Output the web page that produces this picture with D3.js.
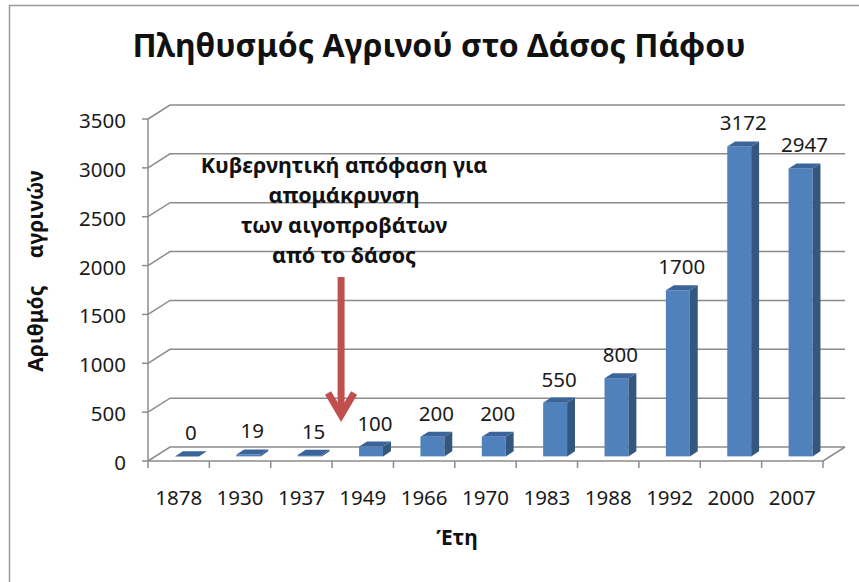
<!DOCTYPE html>
<html>
<head>
<meta charset="utf-8">
<script src="https://cdn.jsdelivr.net/npm/d3@7"></script>
<style>
  body { margin: 0; background: #fff; }
  svg { display: block; font-family: "Noto Sans", "Open Sans", sans-serif; }
</style>
</head>
<body>
<svg id="chart" width="859" height="582"></svg>
<script>
const years = ["1878", "1930", "1937", "1949", "1966", "1970", "1983", "1988", "1992", "2000", "2007"];
const counts = [0, 19, 15, 100, 200, 200, 550, 800, 1700, 3172, 2947];
const yTicks = [0, 500, 1000, 1500, 2000, 2500, 3000, 3500];
const noteLines = ["Κυβερνητική απόφαση για", "απομάκρυνση", "των αιγοπροβάτων", "από το δάσος"];

const svg = d3.select("#chart");

// outer frame
svg.append("rect")
  .attr("x", 9.5).attr("y", 5.5)
  .attr("width", 900).attr("height", 700)
  .attr("fill", "none")
  .attr("stroke", "#9a9a9a")
  .attr("stroke-width", 1.5);

const x0 = 148, x1 = 823;
const depth = { dx: 22, dy: -14 };

const x = d3.scaleBand().domain(years).range([x0, x1]).padding(0);
const y = d3.scaleLinear().domain([0, 3500]).range([461, 119]);

const gridColor = "#8c8c8c";
const labelSize = 20.5;

// back wall gridlines + side wall diagonals
const grid = svg.append("g").attr("stroke", gridColor).attr("stroke-width", 1.5).attr("fill", "none");
yTicks.forEach(v => {
  grid.append("path")
    .attr("d", `M${x0},${y(v)} L${x0 + depth.dx},${y(v) + depth.dy} L${x1 + depth.dx},${y(v) + depth.dy}`);
});

// floor front and right edges
grid.append("path")
  .attr("d", `M${x0},${y(0)} L${x1},${y(0)} L${x1 + depth.dx},${y(0) + depth.dy}`);

// value axis line and ticks
grid.append("line").attr("x1", x0).attr("x2", x0).attr("y1", y(3500)).attr("y2", y(0));
yTicks.forEach(v => {
  grid.append("line").attr("x1", x0 - 6).attr("x2", x0).attr("y1", y(v)).attr("y2", y(v));
});
// category ticks
years.concat(["end"]).forEach(yr => {
  const xx = yr === "end" ? x1 : x(yr);
  grid.append("line").attr("x1", xx).attr("x2", xx).attr("y1", y(0)).attr("y2", y(0) + 7);
});

// y tick labels
svg.append("g").selectAll("text")
  .data(yTicks).join("text")
  .attr("x", 126).attr("y", d => y(d) + 1)
  .attr("text-anchor", "end")
  .attr("dominant-baseline", "central")
  .attr("font-size", labelSize)
  .attr("fill", "#1a1a1a")
  .text(d => d);

// category labels
svg.append("g").selectAll("text")
  .data(years).join("text")
  .attr("x", d => x(d) + x.bandwidth() / 2)
  .attr("y", 497)
  .attr("text-anchor", "middle")
  .attr("dominant-baseline", "central")
  .attr("font-size", labelSize)
  .attr("fill", "#1a1a1a")
  .text(d => d);

// 3D bars
const barW = x.bandwidth() * 0.39;
const f0 = 0.33, f1 = 0.69; // depth fractions of the bar
const bars = svg.append("g");
years.forEach((yr, i) => {
  const v = counts[i];
  const cx = x(yr) + x.bandwidth() / 2 + depth.dx * f0;
  const left = cx - barW / 2 + 1, right = cx + barW / 2 + 1;
  const oy = depth.dy * f0;
  const bx = depth.dx * (f1 - f0), by = depth.dy * (f1 - f0);
  const base = y(0) + oy;
  const top = y(v) + oy;
  // front face
  bars.append("rect")
    .attr("x", left).attr("y", top)
    .attr("width", right - left).attr("height", Math.max(0, base - top))
    .attr("fill", "#4f81bd");
  // side face
  bars.append("path")
    .attr("d", `M${right},${base} L${right + bx},${base + by} L${right + bx},${top + by} L${right},${top} Z`)
    .attr("fill", "#34577f");
  // top face
  bars.append("path")
    .attr("d", `M${left},${top} L${right},${top} L${right + bx},${top + by} L${left + bx},${top + by} Z`)
    .attr("fill", "#3b659a");
  // value label
  svg.append("text")
    .attr("x", (left + right + bx) / 2)
    .attr("y", top + by - 11)
    .attr("text-anchor", "middle")
    .attr("font-size", labelSize)
    .attr("fill", "#1a1a1a")
    .text(v);
});

// title
svg.append("text")
  .attr("x", 439).attr("y", 57)
  .attr("text-anchor", "middle")
  .attr("font-size", 32)
  .attr("font-weight", "bold")
  .attr("fill", "#111")
  .text("Πληθυσμός Αγρινού στο Δάσος Πάφου");

// axis titles
svg.append("text")
  .attr("transform", "translate(43,271) rotate(-90)")
  .attr("text-anchor", "middle")
  .attr("font-size", 21)
  .attr("font-weight", "bold")
  .attr("fill", "#111")
  .style("white-space", "pre")
  .text("Αριθμός     αγρινών");

svg.append("text")
  .attr("x", 457).attr("y", 537)
  .attr("text-anchor", "middle")
  .attr("dominant-baseline", "central")
  .attr("font-size", 21)
  .attr("font-weight", "bold")
  .attr("fill", "#111")
  .text("Έτη");

// annotation
const noteX = x("1949") + 12;
svg.append("g").selectAll("text")
  .data(noteLines).join("text")
  .attr("x", noteX)
  .attr("y", (d, i) => 164 + i * 30)
  .attr("text-anchor", "middle")
  .attr("dominant-baseline", "central")
  .attr("font-size", 21.5)
  .attr("font-weight", "bold")
  .attr("fill", "#111")
  .text(d => d);

const arrowX = x("1949") + 9;
const tipY = y(440), tailY = y(1883);
const arrow = svg.append("g")
  .attr("fill", "none")
  .attr("stroke", "#c0504d")
  .attr("stroke-width", 7)
  .attr("stroke-linejoin", "miter");
arrow.append("line").attr("x1", arrowX).attr("x2", arrowX).attr("y1", tailY).attr("y2", tipY - 3);
arrow.append("path").attr("d", `M${arrowX - 13},${tipY - 25} L${arrowX},${tipY - 3} L${arrowX + 13},${tipY - 25}`);
</script>
</body>
</html>
